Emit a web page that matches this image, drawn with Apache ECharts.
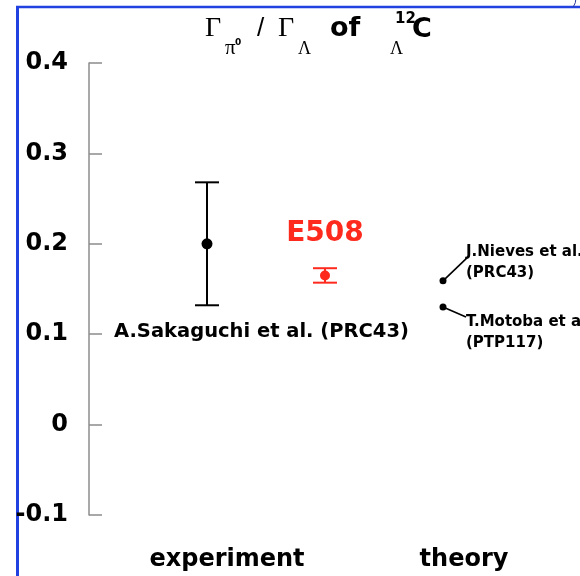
<!DOCTYPE html>
<html>
<head>
<meta charset="utf-8">
<script src="https://cdn.jsdelivr.net/npm/echarts@6/dist/echarts.min.js"></script>
<style>
html,body{margin:0;padding:0;background:#fff;}
#chart{width:580px;height:576px;}
</style>
</head>
<body>
<div id="chart"></div>
<script>
// ---- data ----
const expNames = ['A.Sakaguchi et al. (PRC43)', 'E508'];
const expX = [1, 2];
const expValues = [0.200, 0.165];
const expLow = [0.132, 0.157];
const expHigh = [0.268, 0.173];

const theoryNames = ['J.Nieves et al.\n(PRC43)', 'T.Motoba et al.\n(PTP117)'];
const theoryX = [3, 3];
const theoryValues = [0.159, 0.130];

const groupLabels = ['experiment', 'theory'];

const yMin = -0.1, yMax = 0.4, yStep = 0.1;

// ---- styles ----
const RED = '#ff2a1e';
const SANS = 'DejaVu Sans';
const SERIF = 'Liberation Serif';
const expColors = ['#000000', RED];
const expDotSizes = [11, 10];
const expLabelStyle = [
  {anchor: 'low', dx: -93, dy: 27, align: 'left', size: 19.5, color: '#000'},
  {anchor: 'high', dx: 0, dy: -34, align: 'center', size: 28, color: RED}
];
const theoryLabelStyle = [
  {lineEnd: [24, -23], textDx: 23, textDy: -29},
  {lineEnd: [23, 10], textDx: 23, textDy: 15}
];
const BLUE = '#2142e0';

const chart = echarts.init(document.getElementById('chart'), null, {renderer: 'canvas'});

function titleText(x, y, text, font, size, weight) {
  return {type: 'text', x: x, y: y, silent: true,
    style: {text: text, fontFamily: font, fontSize: size, fontWeight: weight || 'normal',
      fill: '#000', align: 'left', verticalAlign: 'middle'}};
}

const option = {
  animation: false,
  backgroundColor: '#fff',
  grid: {left: 89, right: 19, top: 63, bottom: 61},
  xAxis: {type: 'value', min: 0, max: 4, show: false},
  yAxis: {
    type: 'value', min: yMin, max: yMax, interval: yStep,
    axisLine: {show: true, lineStyle: {color: '#8c8c8c', width: 1.5}},
    axisTick: {show: true, inside: true, length: 13, lineStyle: {color: '#8c8c8c', width: 1.5}},
    splitLine: {show: false},
    axisLabel: {
      fontFamily: SANS, fontWeight: 'bold', fontSize: 24, color: '#000', margin: 21,
      padding: [6, 0, 0, 0],
      formatter: v => String(Math.round(v * 10) / 10)
    }
  },
  graphic: [
    {type: 'line', silent: true, shape: {x1: 16, y1: 7, x2: 580, y2: 7}, style: {stroke: BLUE, lineWidth: 2.5}},
    {type: 'line', silent: true, shape: {x1: 17.5, y1: 6, x2: 17.5, y2: 576}, style: {stroke: BLUE, lineWidth: 3}},
    {type: 'arc', silent: true, shape: {cx: 560, cy: -2, r: 16, startAngle: 0, endAngle: 0.6}, style: {stroke: '#2a3a9a', lineWidth: 1, fill: null}},
    titleText(205, 29, 'Γ', SERIF, 28),
    titleText(225, 48, 'π', SERIF, 21),
    titleText(235, 43, '0', SANS, 9, 'bold'),
    titleText(257, 29, '/', 'Liberation Sans', 26),
    titleText(278, 29, 'Γ', SERIF, 28),
    titleText(298, 49, 'Λ', SERIF, 18),
    titleText(330, 29, 'of', SANS, 27, 'bold'),
    titleText(390, 49, 'Λ', SERIF, 18),
    titleText(395, 19, '12', SANS, 15, 'bold'),
    titleText(412, 30, 'C', SANS, 27, 'bold'),
    {type: 'text', x: 227, y: 560, silent: true,
      style: {text: groupLabels[0], fontFamily: SANS, fontWeight: 'bold', fontSize: 24, fill: '#000', align: 'center', verticalAlign: 'middle'}},
    {type: 'text', x: 464, y: 560, silent: true,
      style: {text: groupLabels[1], fontFamily: SANS, fontWeight: 'bold', fontSize: 24, fill: '#000', align: 'center', verticalAlign: 'middle'}}
  ],
  series: [
    {
      type: 'custom',
      name: 'error bars',
      data: expX.map((x, i) => [x, expLow[i], expHigh[i]]),
      renderItem: function (params, api) {
        const x = api.value(0);
        const lo = api.coord([x, api.value(1)]);
        const hi = api.coord([x, api.value(2)]);
        const c = expColors[params.dataIndex];
        const hw = 12;
        const st = {stroke: c, lineWidth: 2};
        return {type: 'group', children: [
          {type: 'line', shape: {x1: lo[0], y1: lo[1], x2: hi[0], y2: hi[1]}, style: st},
          {type: 'line', shape: {x1: lo[0] - hw, y1: lo[1], x2: lo[0] + hw, y2: lo[1]}, style: st},
          {type: 'line', shape: {x1: hi[0] - hw, y1: hi[1], x2: hi[0] + hw, y2: hi[1]}, style: st}
        ]};
      },
      z: 2
    },
    {
      type: 'scatter',
      name: 'experiment',
      data: expX.map((x, i) => ({value: [x, expValues[i]], symbolSize: expDotSizes[i], itemStyle: {color: expColors[i], opacity: 1}})),
      symbol: 'circle',
      itemStyle: {opacity: 1},
      z: 3
    },
    {
      type: 'scatter',
      name: 'theory',
      data: theoryX.map((x, i) => [x, theoryValues[i]]),
      symbol: 'circle',
      symbolSize: 7,
      itemStyle: {color: '#000', opacity: 1},
      z: 3
    },
    {
      type: 'custom',
      name: 'experiment labels',
      data: expX.map((x, i) => [x, expValues[i], expLow[i], expHigh[i]]),
      renderItem: function (params, api) {
        const i = params.dataIndex;
        const s = expLabelStyle[i];
        const x = api.value(0);
        const yv = s.anchor === 'low' ? api.value(2) : api.value(3);
        const p = api.coord([x, yv]);
        return {type: 'text', x: p[0] + s.dx, y: p[1] + s.dy,
          style: {text: expNames[i], fontFamily: SANS, fontWeight: 'bold', fontSize: s.size,
            fill: s.color, align: s.align, verticalAlign: 'middle'}};
      },
      z: 4
    },
    {
      type: 'custom',
      name: 'theory labels',
      data: theoryX.map((x, i) => [x, theoryValues[i]]),
      renderItem: function (params, api) {
        const i = params.dataIndex;
        const s = theoryLabelStyle[i];
        const p = api.coord([api.value(0), api.value(1)]);
        return {type: 'group', children: [
          {type: 'line', shape: {x1: p[0], y1: p[1], x2: p[0] + s.lineEnd[0], y2: p[1] + s.lineEnd[1]},
            style: {stroke: '#000', lineWidth: 1.6}},
          {type: 'text', x: p[0] + s.textDx, y: p[1] + s.textDy - 10.5,
            style: {text: theoryNames[i], fontFamily: SANS, fontWeight: 'bold', fontSize: 15,
              lineHeight: 21, fill: '#000', align: 'left', verticalAlign: 'top'}}
        ]};
      },
      z: 4
    }
  ]
};
chart.setOption(option);
</script>
</body>
</html>
